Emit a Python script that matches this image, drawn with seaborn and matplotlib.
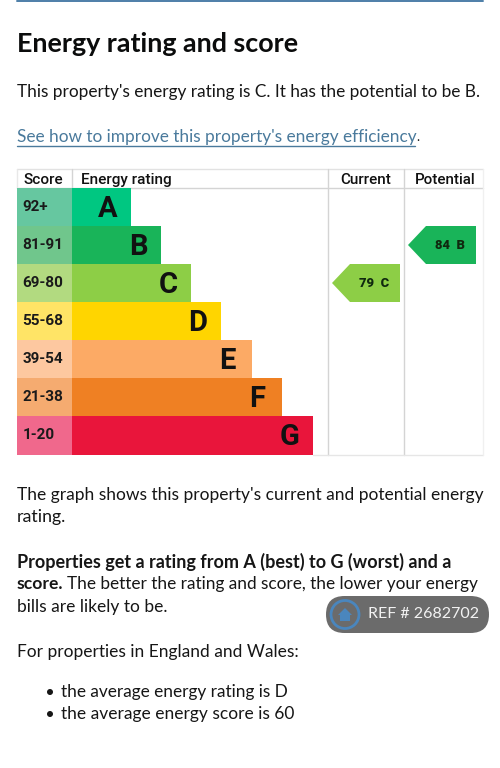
import seaborn as sns
import matplotlib.pyplot as plt
from matplotlib.patches import Polygon, FancyBboxPatch, Circle

W, H = 500, 768

# chart data
ratings = ["A", "B", "C", "D", "E", "F", "G"]
score_bands = ["92+", "81-91", "69-80", "55-68", "39-54", "21-38", "1-20"]
bar_lengths = [59, 89, 119, 149, 180, 210, 241]
bar_colors = ["#00c781", "#19b459", "#8dce46", "#ffd500", "#fcaa65", "#ef8023", "#e9153b"]
band_colors = ["#66c7a0", "#70c68c", "#b2da80", "#ffe466", "#fdc8a0", "#f5ab70", "#f0688c"]
current = (79, "C")
potential = (84, "B")

sns.set_style("white")
body_font = ["Lato", "DejaVu Sans"]
chart_font = ["Roboto", "DejaVu Sans"]

fig = plt.figure(figsize=(W / 100, H / 100), dpi=100, facecolor="white")
renderer = fig.canvas.get_renderer()


def px_axes(left, top, right, bottom, **kw):
    # axes placed from pixel edges of the picture
    return fig.add_axes([left / W, 1 - bottom / H, (right - left) / W, (bottom - top) / H], **kw)


# overlay for page text and rules, in pixel coords
page = px_axes(0, 0, W, H)
page.set_xlim(0, W)
page.set_ylim(H, 0)
page.axis("off")


def fitted(x0, x1, y, s, size=12, va="center", **kw):
    # text scaled so it runs from x0 to x1, like the line in the reference
    t = page.text(x0, y, s, fontsize=size, va=va, **kw)
    t.set_fontsize(size * (x1 - x0) / t.get_window_extent(renderer).width)
    return t


# score column
ax_score = px_axes(17, 188, 72, 454.5)
sns.barplot(x=[1] * 7, y=score_bands, hue=score_bands, palette=band_colors, width=1, saturation=1,
            linewidth=0, legend=False, dodge=False, ax=ax_score)
ax_score.set_xlim(0, 1)
ax_score.set_ylim(6.5, -0.5)
ax_score.axis("off")
for i, s in enumerate(score_bands):
    ax_score.text(0.1, i, s, va="center", ha="left", fontsize=11, fontweight="bold",
                  family=chart_font, color="#1a1a1a")

# rating bars
ax_bars = px_axes(72, 188, 327, 454.5)
sns.barplot(x=bar_lengths, y=ratings, hue=ratings, palette=bar_colors, width=1, saturation=1,
            linewidth=0, legend=False, dodge=False, ax=ax_bars)
ax_bars.set_xlim(0, 255)
ax_bars.set_ylim(6.5, -0.5)
ax_bars.axis("off")
for i, r in enumerate(ratings):
    # E and F sit a little further in from the bar end
    inset = 25 if r in "EF" else 23
    ax_bars.text(bar_lengths[i] - inset, i + 0.04, r, va="center", ha="center", fontsize=21,
                 fontweight="bold", family=chart_font, color="#111111")

# table rules
rule = "#d4d4d4"
page.plot([17, 483], [169, 169], color="#e2e2e2", lw=1)
page.plot([17, 483], [188, 188], color=rule, lw=1)
page.plot([72, 72], [169, 188], color=rule, lw=1)
page.plot([327.5, 327.5], [169, 455], color=rule, lw=1)
page.plot([403.5, 403.5], [169, 455], color=rule, lw=1)
page.plot([313, 483], [455, 455], color="#e6e6e6", lw=1)
page.plot([483, 483], [169, 455], color="#f0f0f0", lw=1)
page.plot([17, 17], [169, 188], color="#e8e8e8", lw=1)

for x0, x1, label in [(23, 62, "Score"), (81, 172, "Energy rating"), (340, 391, "Current"), (415, 476, "Potential")]:
    fitted(x0, x1, 184, label, va="baseline", fontweight="medium", family=chart_font, color="#111111")


# rating arrows
def arrow(tip, neck, right, top, bottom, color, value, letter):
    mid = (top + bottom) / 2
    page.add_patch(Polygon([(tip, mid), (neck, top), (right, top), (right, bottom), (neck, bottom)],
                           closed=True, facecolor=color, edgecolor="none", zorder=3))
    page.text(neck + 24, mid + 0.5, f"{value}  {letter}", ha="center", va="center", fontsize=9.4,
              fontweight="black", family=chart_font, color="#10290f", zorder=4)


arrow(332, 350, 400, 264, 302, bar_colors[2], current[0], current[1])
arrow(408, 426, 476, 226, 264, bar_colors[1], potential[0], potential[1])

# page text
page.plot([17, 483], [0.5, 0.5], color="#4d7ea8", lw=1.4)
fitted(17, 297, 44, "Energy rating and score", fontweight="bold", family=body_font, color="#0b0c0c")


def body(x0, x1, y, s, **kw):
    fitted(x0, x1, y, s, family=body_font, color=kw.pop("color", "#161616"), **kw)


body(17, 478, 92, "This property's energy rating is C. It has the potential to be B.")
body(17, 415, 137, "See how to improve this property's energy efficiency", color="#4a7a9c")
page.plot([17, 415], [145.5, 145.5], color="#4a7a9c", lw=1)
body(416, 419, 137, ".")
body(17, 479, 495, "The graph shows this property's current and potential energy")
body(17, 66, 517, "rating.")
body(17, 448, 562, "Properties get a rating from A (best) to G (worst) and a", fontweight="bold")
body(17, 63, 584, "score.", fontweight="bold")
body(67, 478, 584, "The better the rating and score, the lower your energy")
body(17, 167, 607, "bills are likely to be.")
body(17, 297, 652, "For properties in England and Wales:")
for x1, y, s in [(288, 692, "the average energy rating is D"), (294, 714, "the average energy score is 60")]:
    page.add_patch(Circle((50, y), 3, facecolor="#161616", edgecolor="none"))
    body(61, x1, y, s)

# watermark badge
page.add_patch(FancyBboxPatch((326, 596), 163, 37, boxstyle="round,pad=0,rounding_size=18.5",
                              facecolor="#6b6b6b", edgecolor="none", zorder=5))
page.add_patch(Circle((345, 614.5), 14, facecolor="none", edgecolor="#4a86bd", lw=2, zorder=6))
page.add_patch(Polygon([(338, 615), (345, 608), (352, 615), (350, 615), (350, 621), (340, 621), (340, 615)],
                       closed=True, facecolor="#4a86bd", edgecolor="none", zorder=6))
fitted(368, 478, 613.5, "REF # 2682702", family=["Lato", "DejaVu Sans"], color="#f2f2f2", zorder=6)

fig.savefig("out.png", dpi=100)
